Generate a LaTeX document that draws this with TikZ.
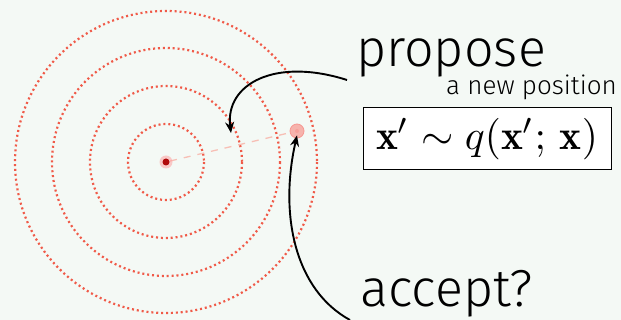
\documentclass[tikz,border=0pt]{standalone}
\usepackage{fontspec}
\usepackage{amsmath}
\newfontfamily\thinfont{Fira Sans Light}
\usetikzlibrary{arrows.meta}
\definecolor{bgc}{HTML}{F4F9F5}
\definecolor{ringc}{HTML}{F05A48}
\definecolor{pathc}{HTML}{F7BFB5}
\definecolor{curc}{HTML}{B00A0A}
\definecolor{newc}{HTML}{F6B3AC}
\tikzset{
  ring/.style={draw=ringc, line width=2.2pt, dash pattern=on 2pt off 2.9pt},
  conn/.style={draw=black, line width=1.9pt, -{Stealth[length=11pt,width=9pt]}},
  bigtext/.style={font=\thinfont\fontsize{52}{56}\selectfont, inner sep=0pt},
  smalltext/.style={font=\thinfont\fontsize{26}{28}\selectfont, inner sep=0pt},
}
\begin{document}
\begin{tikzpicture}[x=1pt,y=-1pt]
\fill[bgc] (0,0) rectangle (621,320);
\useasboundingbox (0,0) rectangle (621,320);
% rings
\foreach \r in {38,76,114,151}{\draw[ring] (166,162) circle[radius=\r];}
% proposal path
\node[circle, minimum size=8pt, inner sep=0pt] (cur) at (166,162) {};
\node[circle, minimum size=14pt, inner sep=0pt, fill=newc, draw=newc!85!red, line width=0.8pt] (new) at (297,131) {};
\draw[pathc, line width=1.3pt, dash pattern=on 7pt off 7pt] (cur) -- (new);
\fill[red!40, opacity=0.5] (cur.center) circle[radius=6.5];
\fill[curc] (cur.center) circle[radius=3.5];
\fill[newc!60!red, opacity=0.25] (new.center) circle[radius=2];
% texts
\node[bigtext, anchor=base west, text depth=0pt] (propose) at (356,67) {propose};
\node[smalltext, anchor=base west] (newpos) at (446,95) {a new position};
\node[draw=black, line width=1pt, fill=white, minimum width=248pt, minimum height=62pt, inner sep=0pt] (eq) at (487,139)
  {\scalebox{4.15}{$\mathbf{x}'\sim q(\mathbf{x}';\,\mathbf{x})$}};
\node[bigtext, anchor=base west] (accept) at (360,306) {accept?};
% connectors
\coordinate (tgt) at (231,133);
\draw[conn] ([xshift=-9pt,yshift=-13pt]propose.base west) .. controls (275,57) and (225,84) .. (tgt);
\draw[conn] ([xshift=-10pt,yshift=-14pt]accept.base west) .. controls (295,290) and (279,215) .. ([yshift=3pt]new.south);
\end{tikzpicture}
\end{document}
